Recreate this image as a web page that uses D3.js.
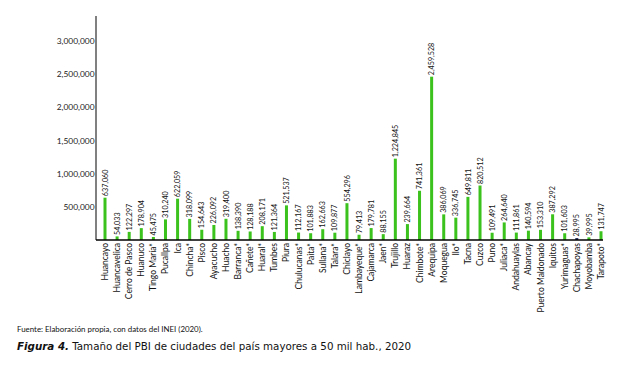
<!DOCTYPE html>
<html><head><meta charset="utf-8">
<script src="https://cdn.jsdelivr.net/npm/d3@7"></script>
<style>
body{margin:0;background:#fff;}
svg{display:block;font-family:"Open Sans",Lato,sans-serif;}
</style></head>
<body>
<svg id="c" width="640" height="376"></svg>
<script>
const categories = ["Huancayo","Huancavelica","Cerro de Pasco","Huanuco","Tingo María*","Pucallpa","Ica","Chincha*","Pisco","Ayacucho","Huacho","Barranca*","Cañete*","Huaral*","Tumbes","Piura","Chulucanas*","Paita*","Sullana*","Talara*","Chiclayo","Lambayeque*","Cajamarca","Jaen*","Trujillo","Huaraz","Chimbote*","Arequipa","Moquegua","Ilo*","Tacna","Cuzco","Puno","Juliaca*","Andahuaylas","Abancay","Puerto Maldonado","Iquitos","Yurimaguas*","Chachapoyas","Moyobamba","Tarapoto*"];
const values = [637060,54033,122297,178904,45475,310240,622059,318099,154643,226092,319400,138390,128188,208171,121364,521537,112167,101883,162663,109877,554296,79413,179781,88155,1224845,239664,741361,2459528,386069,336745,649811,820512,109491,264640,111861,140594,153310,387292,101603,28995,39995,131747];
const yTicks = [500000,1000000,1500000,2000000,2500000,3000000];
const darkBars = ["Chachapoyas"];
const sourceText = "Fuente: Elaboración propia, con datos del  INEI (2020).";
const titleBold = "Figura 4.";
const titleRest = " Tamaño del PBI de ciudades del país mayores a 50 mil hab., 2020";

const svg = d3.select("#c");
const x = d3.scalePoint().domain(categories).range([105, 601]);
const y = d3.scaleLinear().domain([0, 3000000]).range([240, 40.8]);
const fmt = d3.format(",");

// y axis
const ya = svg.append("g").attr("transform","translate(96,0)")
  .call(d3.axisLeft(y).tickValues(yTicks).tickFormat(fmt).tickSize(0).tickPadding(1.5));
ya.select(".domain").remove();
ya.selectAll("text").attr("font-size",8.4).attr("fill","#222").attr("font-family","Lato,sans-serif");
svg.append("line").attr("x1",96).attr("x2",96).attr("y1",16).attr("y2",240)
  .attr("stroke","#808080").attr("stroke-width",2);

// bars
svg.selectAll("rect.bar").data(values).join("rect").attr("class","bar")
  .attr("x",(d,i)=>x(categories[i])-1.5).attr("width",3)
  .attr("y",d=>y(d)).attr("height",d=>240-y(d))
  .attr("fill",(d,i)=>darkBars.includes(categories[i])?"#1f2a5a":"#3cc21c");

// x axis
svg.append("line").attr("x1",96).attr("x2",603).attr("y1",240).attr("y2",240)
  .attr("stroke","#000").attr("stroke-width",1.3);

// value labels
svg.selectAll("text.val").data(values).join("text").attr("class","val")
  .attr("transform",(d,i)=>`translate(${x(categories[i])+2.6},${y(d)-1.5}) rotate(-90)`)
  .attr("font-size",7.2).attr("fill","#111").attr("font-family","Lato,sans-serif")
  .text(d=>fmt(d));

// category labels
svg.selectAll("text.cat").data(categories).join("text").attr("class","cat")
  .attr("transform",d=>`translate(${x(d)+3},${243}) rotate(-90)`)
  .attr("text-anchor","end").attr("font-size",8.5).attr("fill","#111").attr("font-family","Lato,sans-serif")
  .text(d=>d);

svg.append("text").attr("x",17).attr("y",332).attr("font-size",7.9).attr("fill","#111")
  .attr("font-family","Lato,sans-serif").text(sourceText);
const t = svg.append("text").attr("x",17).attr("y",350).attr("font-size",10.3).attr("fill","#111")
  .attr("font-family","'DejaVu Sans',sans-serif");
t.append("tspan").attr("font-weight","bold").attr("font-style","italic").text(titleBold);
t.append("tspan").text(titleRest);
</script>
</body></html>
